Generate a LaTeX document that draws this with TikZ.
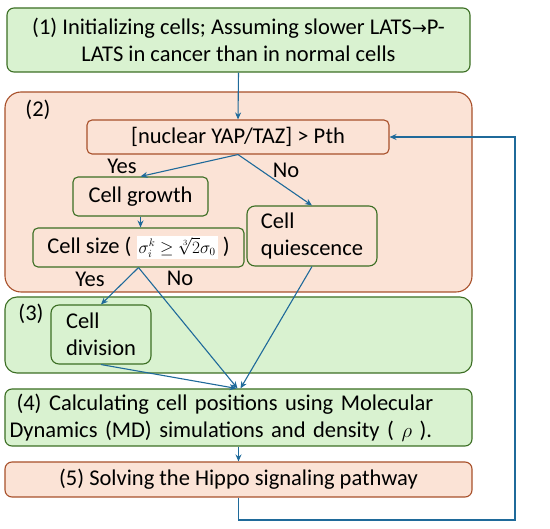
\documentclass[tikz,border=0pt]{standalone}
\usepackage{amsmath,amssymb}
\usepackage{fontspec}
\setmainfont{Carlito}
\newfontfamily\arrowfont{DejaVu Sans}
\usepackage{tikz}
\usetikzlibrary{arrows.meta,positioning,calc}
\definecolor{pgreen}{HTML}{D9F2D0}
\definecolor{ppeach}{HTML}{FBE3D6}
\definecolor{dgreen}{HTML}{3B6E23}
\definecolor{dbrown}{HTML}{A8502A}
\definecolor{dblue}{HTML}{1F6A9A}
\tikzset{
  gblk/.style={draw=dgreen,fill=pgreen,line width=1.1pt,rounded corners=7pt,inner sep=0pt,
               align=center,font=\fontsize{22.5}{27}\selectfont},
  oblk/.style={gblk,draw=dbrown,fill=ppeach},
  arr/.style={-{Stealth[length=7pt,width=6pt]},line width=1.1pt,dblue},
  lbl/.style={font=\fontsize{22.5}{24}\selectfont,inner sep=0pt},
}
\begin{document}
\begin{tikzpicture}[x=1pt,y=-1pt]
\useasboundingbox (0,0) rectangle (550,529);
% outer stage boxes
\node[gblk,minimum width=463,minimum height=64] (b1) at (238.5,40)
  {(1) Initializing cells; Assuming slower LATS{\arrowfont\fontsize{18}{18}\selectfont→}P-\\LATS in cancer than in normal cells};
\node[oblk,rounded corners=16pt,minimum width=467,minimum height=200] (b2) at (238.5,192) {};
\node[lbl] (n2) at (38,110) {(2)};
\node[gblk,rounded corners=12pt,minimum width=467,minimum height=76] (b3) at (238.5,335) {};
\node[lbl] (n3) at (31,314) {(3)};
\node[gblk,minimum width=467,minimum height=57,text width=458,align=left] (b4) at (238.5,417.5)
  {\hspace{7pt}(4) Calculating cell positions using Molecular\\Dynamics (MD) simulations and density ( $\rho$ ).};
\node[oblk,minimum width=467,minimum height=35] (b5) at (238.5,479.5) {(5) Solving the Hippo signaling pathway};
% inner decision boxes
\node[oblk,rounded corners=5pt,minimum width=302,minimum height=34] (yap) at (238,137) {[nuclear YAP/TAZ] > Pth};
\node[gblk,draw=dgreen,fill=ppeach,rounded corners=5pt,minimum width=135,minimum height=39] (grow) at (140.5,196.5) {Cell growth};
\node[gblk,draw=dgreen,fill=ppeach,rounded corners=8pt,minimum width=130,minimum height=60,align=left] (quies) at (312,236) {Cell\\quiescence};
\node[gblk,draw=dgreen,fill=ppeach,rounded corners=5pt,minimum width=211,minimum height=39] (size) at (138.5,247.5)
  {Cell size ( {\fontsize{16}{16}\selectfont\setlength{\fboxsep}{2pt}\colorbox{white}{$\sigma_i^k\geq\sqrt[3]{2}\sigma_0$}} )};
\node[gblk,rounded corners=8pt,minimum width=100,minimum height=59,align=left] (div) at (101,334.5) {Cell\\division};
% branch labels
\node[lbl] (yes1) at (122,166) {Yes};
\node[lbl] (no1) at (286,170) {No};
\node[lbl] (yes2) at (90,279) {Yes};
\node[lbl] (no2) at (180,278) {No};
% connectors
\coordinate (loop) at (515,520);
\draw[arr] (b1.south) -- (yap.north);
\draw[arr] (yap.south) -- (grow.north);
\draw[arr] (yap.south) -- (quies.north);
\draw[arr] (grow.south) -- (grow.south |- size.north);
\draw[arr] (size.south) -- (div.north);
\draw[arr] (size.south) -- ($(b4.north)+(-1,0)$);
\draw[arr] (div.south) -- ($(b4.north)+(-2,0)$);
\draw[arr] (quies.south) -- ($(b4.north)+(2,0)$);
\draw[arr] (b4.south) -- (b5.north);
\draw[arr] (b5.south) |- (loop) |- (yap.east);
\end{tikzpicture}
\end{document}
